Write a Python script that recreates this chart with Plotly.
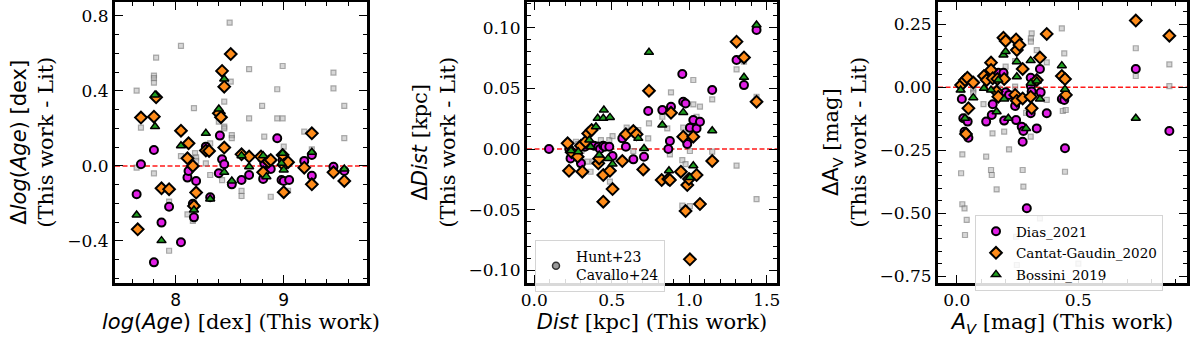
import plotly.graph_objects as go

# ---------------- Panel 1 : log(Age) ----------------
age_dias_x = [7.64, 7.68, 7.80, 7.80, 7.87, 7.94, 8.05, 8.11, 8.12, 8.16, 8.17, 8.19, 8.28, 8.32, 8.40, 8.41, 8.43, 8.45,
              8.52, 8.61, 8.68, 8.80, 8.81, 8.82, 8.88, 8.94, 8.98, 9.00, 9.05, 8.99, 9.19, 9.26, 9.26, 9.46, 9.56]
age_dias_y = [-0.151, 0.009, 0.085, -0.514, -0.302, -0.217, -0.407, -0.062, -0.027, -0.201, -0.274, -0.080, 0.103, -0.167,
              -0.039, 0.162, 0.036, 0.009, -0.098, -0.075, -0.048, 0.041, -0.069, 0.014, -0.016, 0.148, -0.075, -0.080,
              -0.075, 0.032, 0.027, 0.059, -0.052, -0.004, -0.027]
age_cg_x = [7.65, 7.68, 7.80, 7.82, 7.87, 7.94, 8.05, 8.12, 8.11, 8.16, 8.19, 8.17, 8.28, 8.31, 8.40, 8.42, 8.43, 8.45, 8.45,
            8.51, 8.61, 8.68, 8.79, 8.81, 8.86, 8.88, 8.99, 9.00, 9.00, 9.04, 9.19, 9.26, 9.26, 9.46, 9.56]
age_cg_y = [-0.338, 0.258, 0.263, 0.366, -0.119, -0.124, 0.188, 0.121, 0.041, 0.000, -0.142, -0.213, 0.082, 0.080, 0.281,
            0.260, 0.507, 0.423, 0.098, 0.597, 0.062, 0.050, 0.050, -0.034, 0.023, 0.032, 0.059, -0.140, 0.005, 0.020,
            -0.009, 0.174, -0.098, -0.034, -0.080]
age_bos_x = [7.64, 7.81, 7.81, 7.87, 8.05, 8.17, 8.28, 8.32, 8.40, 8.45, 8.45, 8.52, 8.61, 8.68, 8.81, 8.84, 8.99, 8.98,
             9.00, 9.26, 9.56]
age_bos_y = [-0.261, 0.379, 0.210, -0.398, 0.108, -0.235, 0.174, -0.176, 0.304, 0.464, -0.034, -0.080, 0.055, -0.004,
             0.055, -0.057, 0.068, 0.014, -0.021, 0.073, -0.016]
age_lit_x = [7.64, 7.64, 7.68, 7.82, 7.80, 7.80, 7.80, 7.80, 7.94, 7.94, 8.05, 8.05, 8.11, 8.16, 8.17, 8.18, 8.19, 8.19,
             8.28, 8.32, 8.32, 8.40, 8.43, 8.45, 8.45, 8.45, 8.50, 8.51, 8.52, 8.52, 8.61, 8.61, 8.68, 8.68, 8.80, 8.82,
             8.88, 8.94, 8.94, 8.99, 8.99, 9.00, 9.04, 9.19, 9.26, 9.46, 9.46, 9.56, 9.56]
age_lit_y = [0.402, -0.009, 0.204, 0.578, 0.482, 0.468, 0.444, -0.039, -0.190, -0.452, 0.640, 0.053, -0.258, -0.293,
             0.308, 0.068, 0.046, 0.027, 0.014, 0.121, -0.048, 0.236, -0.075, 0.343, 0.210, 0.200, 0.764, 0.450, 0.165,
             0.148, -0.133, -0.160, 0.516, 0.254, 0.320, 0.156, -0.164, 0.409, 0.254, 0.533, 0.254, 0.103, -0.132,
             0.183, 0.089, 0.498, 0.414, 0.320, 0.148]

# ---------------- Panel 2 : Distance ----------------
dist_dias_x = [0.095, 0.226, 0.234, 0.301, 0.327, 0.385, 0.413, 0.424, 0.445, 0.456, 0.484, 0.505, 0.568, 0.591, 0.639,
               0.708, 0.735, 0.826, 0.865, 0.875, 0.882, 0.955, 0.961, 0.976, 0.987, 1.004, 1.026, 1.047, 1.069, 1.148,
               1.305, 1.353, 1.434]
dist_dias_y = [0.000, 0.000, -0.0077, -0.0118, 0.0019, 0.0027, 0.0019, 0.000, 0.0027, 0.0019, 0.0019, -0.0058, 0.0088,
               0.0019, -0.0085, -0.0063, 0.0313, 0.0321, 0.000, 0.0066, 0.0349, 0.0618, 0.039, 0.0376, 0.0041, 0.0176,
               0.0239, 0.0170, 0.0225, 0.0486, 0.0734, 0.0527, 0.0981]
dist_cg_x = [0.215, 0.224, 0.241, 0.280, 0.301, 0.310, 0.331, 0.348, 0.370, 0.413, 0.419, 0.445, 0.445, 0.488, 0.505,
             0.568, 0.591, 0.639, 0.660, 0.703, 0.740, 0.822, 0.865, 0.875, 0.882, 0.946, 0.961, 0.976, 0.987, 1.004,
             0.998, 1.026, 1.047, 1.069, 1.148, 1.305, 1.353, 1.434]
dist_cg_y = [0.0047, -0.0179, -0.0027, -0.0063, 0.0027, -0.0187, 0.0060, 0.0129, 0.0157, -0.0118, -0.0077, -0.0434,
             -0.0214, -0.0179, -0.0330, -0.0099, 0.0121, 0.0148, 0.0121, -0.0168, 0.0481, -0.0255, -0.0247, -0.0255,
             0.0299, -0.0187, 0.0102, -0.0511, -0.0297, -0.0909, -0.0247, 0.0102, -0.0214, -0.0453, -0.0099, 0.0885,
             0.0755, 0.0390]
dist_bos_x = [0.237, 0.284, 0.355, 0.363, 0.398, 0.409, 0.419, 0.445, 0.449, 0.477, 0.488, 0.505, 0.671, 0.708, 0.740,
              0.826, 0.869, 0.961, 1.004, 1.026, 1.148, 1.353, 1.434]
dist_bos_y = [-0.0014, -0.0022, 0.0074, 0.0019, 0.0184, 0.0253, -0.0049, 0.0253, 0.0321, -0.0077, 0.0261, -0.0124,
              0.0088, 0.0005, 0.0797, 0.0198, -0.0179, 0.0302, -0.0234, -0.0137, 0.0151, 0.0591, 0.1022]
dist_lit_x = [0.219, 0.237, 0.269, 0.284, 0.305, 0.342, 0.363, 0.381, 0.413, 0.430, 0.484, 0.488, 0.505, 0.596, 0.639,
              0.671, 0.735, 0.740, 0.826, 0.858, 0.875, 0.882, 0.955, 0.961, 0.976, 0.987, 1.004, 0.955, 1.004, 1.026,
              1.026, 1.047, 1.069, 1.148, 1.148, 1.305, 1.305, 1.353, 1.434, 1.434]
dist_lit_y = [-0.0008, -0.0063, 0.0060, 0.0041, -0.0014, -0.0104, -0.0187, -0.0104, 0.0041, 0.0074, 0.0074, -0.0269,
              0.0107, 0.0176, -0.0016, 0.0157, 0.0088, 0.0212, 0.0266, 0.0170, -0.0044, 0.0467, -0.0091, 0.0176,
              -0.0124, 0.0121, -0.0016, -0.0467, -0.0470, 0.0569, 0.0368, 0.0266, 0.0349, 0.0409, -0.0022, 0.0657,
              -0.0137, 0.0720, 0.0431, -0.0412]

# ---------------- Panel 3 : Extinction A_V ----------------
av_dias_x = [0.021, 0.027, 0.032, 0.038, 0.048, 0.045, 0.121, 0.144, 0.148, 0.171, 0.192, 0.195, 0.201, 0.215, 0.240,
             0.244, 0.267, 0.271, 0.274, 0.288, 0.304, 0.305, 0.308, 0.304, 0.329, 0.342, 0.345, 0.370, 0.432, 0.442,
             0.445, 0.736, 0.874]
av_dias_y = [-0.046, -0.123, -0.176, -0.183, -0.200, -0.136, -0.136, -0.110, -0.067, 0.058, 0.058, -0.132, -0.020,
             -0.030, -0.074, -0.130, -0.156, -0.216, -0.173, -0.480, 0.038, 0.005, -0.017, -0.103, -0.163, 0.073,
             -0.020, -0.103, -0.046, -0.050, -0.242, 0.073, -0.173]
av_cg_x = [0.018, 0.034, 0.044, 0.048, 0.038, 0.068, 0.112, 0.123, 0.141, 0.141, 0.148, 0.164, 0.167, 0.171, 0.192,
           0.201, 0.195, 0.244, 0.247, 0.258, 0.240, 0.247, 0.271, 0.271, 0.304, 0.308, 0.329, 0.342, 0.370, 0.432,
           0.445, 0.449, 0.736, 0.874]
av_cg_y = [0.009, 0.029, 0.038, -0.083, -0.185, 0.019, 0.045, 0.029, 0.098, 0.069, 0.036, -0.017, 0.033, -0.037, 0.197,
           0.184, 0.033, 0.190, 0.148, 0.168, -0.030, -0.053, 0.073, -0.044, -0.037, -0.083, 0.029, 0.118, 0.212,
           0.045, 0.033, -0.030, 0.265, 0.205]
av_bos_x = [0.016, 0.034, 0.068, 0.112, 0.141, 0.164, 0.171, 0.192, 0.201, 0.195, 0.212, 0.247, 0.247, 0.285, 0.304,
            0.304, 0.329, 0.342, 0.432, 0.445, 0.736]
av_bos_y = [-0.011, -0.123, -0.041, -0.004, -0.011, -0.097, 0.029, 0.128, 0.142, -0.046, -0.123, 0.102, 0.042, -0.163,
            0.106, 0.016, 0.025, -0.046, 0.086, -0.008, -0.123]
av_lit_x = [0.021, 0.025, 0.023, 0.018, 0.023, 0.032, 0.041, 0.034, 0.068, 0.068, 0.110, 0.121, 0.141, 0.144, 0.147,
            0.164, 0.171, 0.195, 0.201, 0.201, 0.215, 0.240, 0.240, 0.244, 0.247, 0.271, 0.274, 0.285, 0.304, 0.308,
            0.305, 0.305, 0.329, 0.342, 0.370, 0.370, 0.370, 0.432, 0.442, 0.436, 0.448, 0.445, 0.736, 0.736, 0.874,
            0.874, 0.500]
av_lit_y = [-0.011, -0.050, -0.266, -0.341, -0.464, -0.480, -0.526, -0.586, -0.008, -0.021, -0.067, -0.275, -0.328,
            -0.348, -0.183, -0.405, -0.004, -0.176, 0.082, 0.049, -0.246, 0.104, 0.003, -0.593, -0.705, -0.328, -0.394,
            -0.101, -0.196, 0.214, 0.194, 0.181, 0.148, -0.520, 0.214, 0.099, -0.050, 0.234, 0.135, -0.094, -0.090,
            -0.335, 0.155, 0.045, 0.091, 0.005, -0.700]

# ---------------- Labels ----------------
series_names = ["Dias_2021", "Cantat-Gaudin_2020", "Bossini_2019"]
lit_legend_name = "Hunt+23<br>Cavallo+24"
x_titles = ["<span style='font-family:DejaVu Sans'><i>log</i>(<i>Age</i>)</span> [dex] (This work)",
            "<span style='font-family:DejaVu Sans'><i>Dist</i></span> [kpc] (This work)",
            "<span style='font-family:DejaVu Sans'><i>A<sub>V</sub></i></span> [mag] (This work)"]
y_titles = ["<span style='font-family:DejaVu Sans'>Δ<i>log</i>(<i>Age</i>) [dex]</span><br>(This work - Lit)",
            "<span style='font-family:DejaVu Sans'>Δ<i>Dist</i></span> [kpc]<br>(This work - Lit)",
            "<span style='font-family:DejaVu Sans'>ΔA<sub>V</sub></span> [mag]<br>(This work - Lit)"]

SERIF = "DejaVu Serif"
SANS = "DejaVu Sans"
W, H = 1200, 337

panels = [
    dict(lit=(age_lit_x, age_lit_y), dias=(age_dias_x, age_dias_y), cg=(age_cg_x, age_cg_y), bos=(age_bos_x, age_bos_y)),
    dict(lit=(dist_lit_x, dist_lit_y), dias=(dist_dias_x, dist_dias_y), cg=(dist_cg_x, dist_cg_y), bos=(dist_bos_x, dist_bos_y)),
    dict(lit=(av_lit_x, av_lit_y), dias=(av_dias_x, av_dias_y), cg=(av_cg_x, av_cg_y), bos=(av_bos_x, av_bos_y)),
]

fig = go.Figure()
for i, p in enumerate(panels, start=1):
    xa = "x" if i == 1 else f"x{i}"
    ya = "y" if i == 1 else f"y{i}"
    fig.add_trace(go.Scatter(x=p["lit"][0], y=p["lit"][1], mode="markers", xaxis=xa, yaxis=ya, showlegend=False,
                             marker=dict(symbol="square", size=5, color="rgba(175,175,175,0.5)",
                                         line=dict(color="rgba(100,100,100,0.5)", width=1.2)), hoverinfo="skip"))
    show = (i == 3)
    fig.add_trace(go.Scatter(x=p["dias"][0], y=p["dias"][1], mode="markers", xaxis=xa, yaxis=ya, name=series_names[0],
                             showlegend=show, legend="legend", legendgroup="g1",
                             marker=dict(symbol="circle", size=8, color="#e11fe6", line=dict(color="black", width=2))))
    fig.add_trace(go.Scatter(x=p["cg"][0], y=p["cg"][1], mode="markers", xaxis=xa, yaxis=ya, name=series_names[1],
                             showlegend=show, legend="legend", legendgroup="g2",
                             marker=dict(symbol="diamond", size=9, color="#ff8c1a", line=dict(color="black", width=2))))
    fig.add_trace(go.Scatter(x=p["bos"][0], y=p["bos"][1], mode="markers", xaxis=xa, yaxis=ya, name=series_names[2],
                             showlegend=show, legend="legend", legendgroup="g3",
                             marker=dict(symbol="triangle-up", size=8, color="#1f9e1f", line=dict(color="black", width=1.5))))

# legend-only entry for the literature comparison points (panel 2)
fig.add_trace(go.Scatter(x=[None], y=[None], mode="markers", xaxis="x2", yaxis="y2", name=lit_legend_name,
                         legend="legend2", showlegend=True,
                         marker=dict(symbol="circle", size=7, color="#9a9a9a", line=dict(color="#333333", width=1.5))))

x_dom = [(115 / W, 367 / W), (527 / W, 777 / W), (938 / W, 1187 / W)]
y_dom = ((H - 283) / H, (H - 1.5) / H)
x_rng = [(7.44, 9.77), (-0.047, 1.566), (-0.077, 0.9465)]
y_rng = [(-0.624, 0.877), (-0.1104, 0.1216), (-0.7765, 0.3406)]
x_dt = [(1, 0.2, ".0f"), (0.5, 0.1, ".1f"), (0.5, 0.1, ".1f")]
y_dt = [(0.4, 0.1, ".1f"), (0.05, 0.01, ".2f"), (0.25, 0.05, ".2f")]

layout = dict(width=W, height=H, margin=dict(l=0, r=0, t=0, b=0), plot_bgcolor="white", paper_bgcolor="white",
              font=dict(family=SERIF, size=17, color="black"))
for i in range(3):
    k = "" if i == 0 else str(i + 1)
    xa_name = "x" if i == 0 else f"x{i + 1}"
    ya_name = "y" if i == 0 else f"y{i + 1}"
    common = dict(showline=True, linewidth=3, linecolor="black", mirror="allticks", ticks="inside",
                  ticklen=8, tickwidth=1.3, tickcolor="black", showgrid=False, zeroline=False, automargin=False)
    layout["xaxis" + k] = dict(domain=list(x_dom[i]), range=list(x_rng[i]), anchor=ya_name,
                               tick0=0, dtick=x_dt[i][0], tickformat=x_dt[i][2],
                               tickfont=dict(family=SANS if i == 0 else SERIF, size=17),
                               minor=dict(dtick=x_dt[i][1], tick0=0, ticks="inside", ticklen=4, tickwidth=1, tickcolor="black"),
                               title=dict(text=x_titles[i], font=dict(size=21), standoff=2), **common)
    layout["yaxis" + k] = dict(domain=list(y_dom), range=list(y_rng[i]), anchor=xa_name,
                               tick0=0, dtick=y_dt[i][0], tickformat=y_dt[i][2], tickfont=dict(size=17),
                               minor=dict(dtick=y_dt[i][1], tick0=0, ticks="inside", ticklen=4, tickwidth=1, tickcolor="black"),
                               title=dict(text=y_titles[i], font=dict(size=21), standoff=8), **common)

layout["legend"] = dict(x=975 / W, y=(H - 215) / H, xanchor="left", yanchor="top", bgcolor="rgba(255,255,255,0.85)",
                        bordercolor="#d4d4d4", borderwidth=1, font=dict(family=SERIF, size=13.5), tracegroupgap=1)
layout["legend2"] = dict(x=535 / W, y=(H - 240) / H, xanchor="left", yanchor="top", bgcolor="rgba(255,255,255,0.85)",
                         bordercolor="#d4d4d4", borderwidth=1, font=dict(family=SERIF, size=14))
fig.update_layout(**layout)

# red dashed zero lines
for i in range(3):
    xa = "x" if i == 0 else f"x{i + 1}"
    ya = "y" if i == 0 else f"y{i + 1}"
    fig.add_shape(type="line", xref=f"{xa} domain", yref=ya, x0=0, x1=1, y0=0, y1=0,
                  line=dict(color="#ff1a1a", width=1.5, dash="5px,2.5px"), layer="below")

fig.write_html("out.html", config={"displayModeBar": False},
               post_script="document.body.style.margin='0px';")
